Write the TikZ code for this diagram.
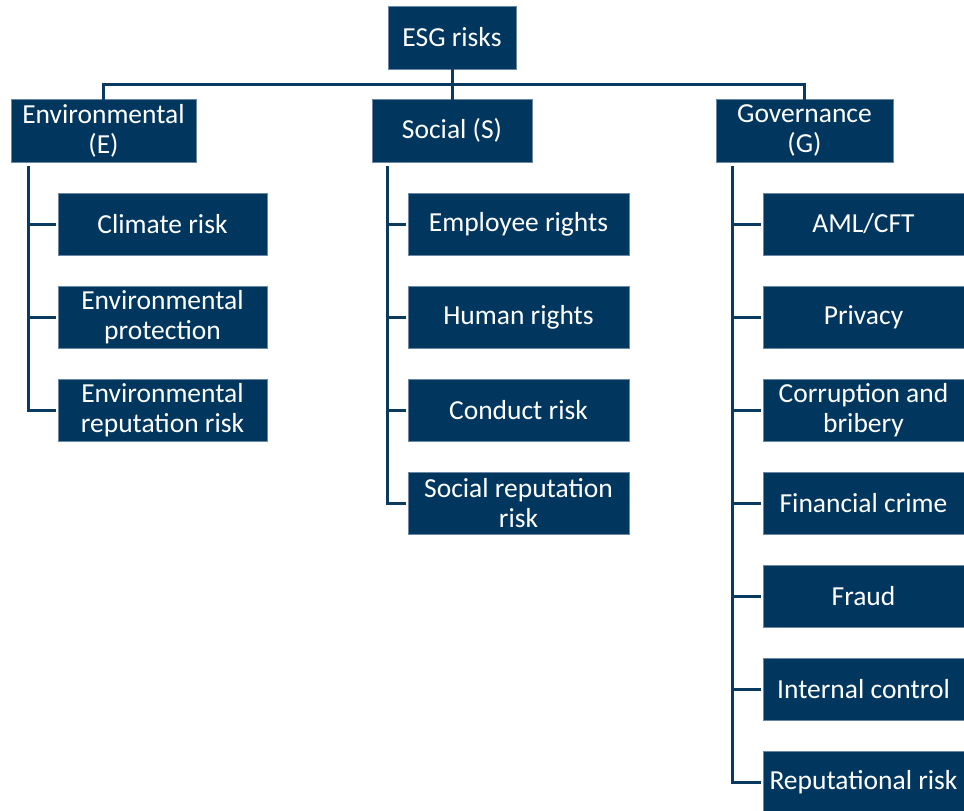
\documentclass[tikz,border=0pt]{standalone}
\usepackage{fontspec}
\setmainfont{Carlito}
\definecolor{boxfill}{HTML}{01375F}
\definecolor{boxedge}{HTML}{6A87A6}
\definecolor{linec}{HTML}{0B3A60}
\begin{document}
\begin{tikzpicture}[x=1pt,y=-1pt,
  box/.style={draw=boxedge, line width=0.7pt, fill=boxfill, text=white,
    font=\fontsize{27.5}{30}\selectfont, align=center, inner sep=0pt},
  boxsz/.style 2 args={minimum width=#1pt, minimum height=#2pt},
  conn/.style={draw=linec, line width=3pt}]
\useasboundingbox (0,0) rectangle (964,811);
\clip (0,0) rectangle (964,811);
% top
\node[box, boxsz={128}{63}] (esg) at (452,37.5) {ESG risks};
\node[box, boxsz={185}{63}] (env) at (103.5,130.5) {Environmental\\(E)};
\node[box, boxsz={160}{63}] (soc) at (452,130.5) {Social (S)};
\node[box, boxsz={177}{63}] (gov) at (804.5,130.5) {Governance\\(G)};
% environmental
\node[box, boxsz={209}{62}] (e1) at (162.5,224) {Climate risk};
\node[box, boxsz={209}{62}] (e2) at (162.5,317) {Environmental\\protection};
\node[box, boxsz={209}{62}] (e3) at (162.5,410) {Environmental\\reputation risk};
% social
\node[box, boxsz={221}{62}] (s1) at (518.5,224) {Employee rights};
\node[box, boxsz={221}{62}] (s2) at (518.5,317) {Human rights};
\node[box, boxsz={221}{62}] (s3) at (518.5,410) {Conduct risk};
\node[box, boxsz={221}{62}] (s4) at (518.5,503.5) {Social reputation\\risk};
% governance
\node[box, boxsz={201}{62}] (g1) at (863.5,224) {AML/CFT};
\node[box, boxsz={201}{62}] (g2) at (863.5,317) {Privacy};
\node[box, boxsz={201}{62}] (g3) at (863.5,410) {Corruption and\\bribery};
\node[box, boxsz={201}{62}] (g4) at (863.5,503.5) {Financial crime};
\node[box, boxsz={201}{62}] (g5) at (863.5,596.5) {Fraud};
\node[box, boxsz={201}{62}] (g6) at (863.5,689.5) {Internal control};
\node[box, boxsz={201}{62}] (g7) at (863.5,782.5) {Reputational risk};
% top connectors
\coordinate (bus) at (452,84);
\draw[conn] ([yshift=3pt]esg.south) -- ([yshift=-2pt]soc.north);
\draw[conn] ([yshift=-2pt]env.north) |- (bus) -| ([yshift=-2pt]gov.north);
% environmental trunk
\coordinate (et) at (28,166);
\draw[conn] (et) |- ([xshift=-2pt]e3.west);
\foreach \c in {e1,e2}{\draw[conn] (et |- \c.west) -- ([xshift=-2pt]\c.west);}
% social trunk
\coordinate (st) at (387,166);
\draw[conn] (st) |- ([xshift=-2pt]s4.west);
\foreach \c in {s1,s2,s3}{\draw[conn] (st |- \c.west) -- ([xshift=-2pt]\c.west);}
% governance trunk
\coordinate (gt) at (732,166);
\draw[conn] (gt) |- ([xshift=-2pt]g7.west);
\foreach \c in {g1,g2,g3,g4,g5,g6}{\draw[conn] (gt |- \c.west) -- ([xshift=-2pt]\c.west);}
\end{tikzpicture}
\end{document}
